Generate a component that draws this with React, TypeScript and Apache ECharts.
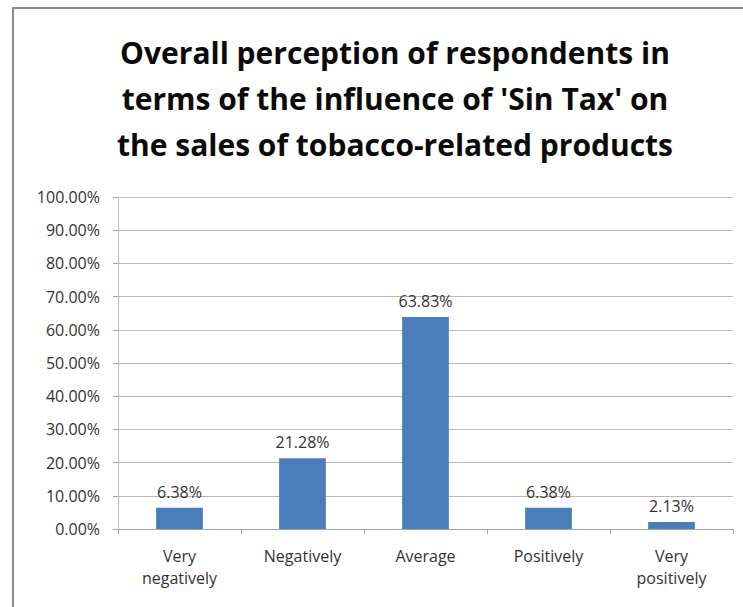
import React, { useEffect, useRef } from "react";
import * as echarts from "echarts";

const titleLines = [
  "Overall perception of respondents in",
  "terms of the influence of 'Sin Tax' on",
  "the sales of tobacco-related products",
];
const categories = ["Very\nnegatively", "Negatively", "Average", "Positively", "Very\npositively"];
const shares = [6.38, 21.28, 63.83, 6.38, 2.13];

export default function App() {
  const ref = useRef<HTMLDivElement>(null);

  useEffect(() => {
    document.body.style.margin = "0";
    const chart = echarts.init(ref.current!, null, { renderer: "svg" });
    chart.setOption({
      animation: false,
      backgroundColor: "#ffffff",
      textStyle: { fontFamily: "'Open Sans', 'Noto Sans', sans-serif" },
      graphic: [
        {
          type: "rect",
          shape: { x: 13, y: 8, width: 800, height: 700 },
          style: { fill: "none", stroke: "#8a8a8a", lineWidth: 2 },
          silent: true,
        },
      ],
      title: {
        text: titleLines.join("\n"),
        left: 390,
        top: 24,
        textAlign: "center",
        textStyle: {
          fontFamily: "'Open Sans', sans-serif",
          fontWeight: "bold",
          fontSize: 30,
          lineHeight: 46,
          color: "#0a0a0a",
        },
      },
      grid: { left: 118, right: 10, top: 197, bottom: 78 },
      xAxis: {
        type: "category",
        data: categories,
        axisLine: { lineStyle: { color: "#a6a6a6" } },
        axisTick: { show: true, alignWithLabel: false, length: 5, lineStyle: { color: "#a6a6a6" } },
        axisLabel: { color: "#333333", fontSize: 16, lineHeight: 22, margin: 16 },
      },
      yAxis: {
        type: "value",
        min: 0,
        max: 100,
        interval: 10,
        axisLine: { show: true, lineStyle: { color: "#bdbdbd" } },
        axisTick: { show: true, length: 5, lineStyle: { color: "#a6a6a6" } },
        splitLine: { show: true, lineStyle: { color: "#b8b8b8" } },
        axisLabel: {
          color: "#333333",
          fontSize: 16,
          margin: 18,
          formatter: (v: number) => v.toFixed(2) + "%",
        },
      },
      series: [
        {
          type: "bar",
          data: shares,
          barWidth: "38%",
          itemStyle: { color: "#4a7ebb" },
          label: {
            show: true,
            position: "top",
            distance: 8,
            color: "#333333",
            fontSize: 16,
            formatter: (p: any) => p.value.toFixed(2) + "%",
          },
        },
      ],
    });
    return () => chart.dispose();
  }, []);

  return <div ref={ref} style={{ width: 743, height: 607 }} />;
}
